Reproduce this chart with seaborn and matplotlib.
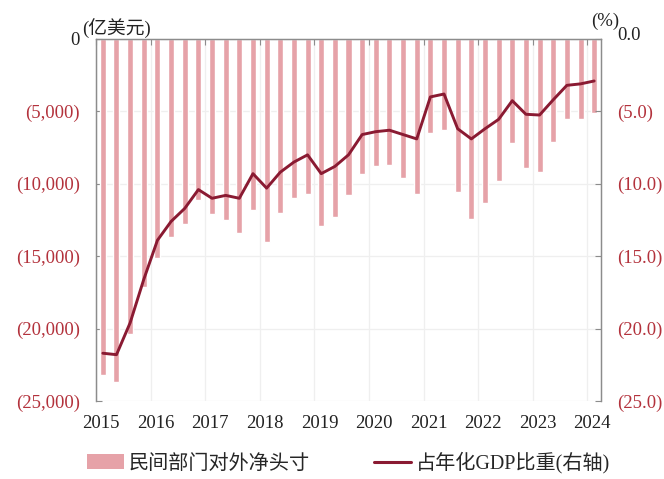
import matplotlib
matplotlib.use("Agg")
import matplotlib.pyplot as plt
import matplotlib.transforms as mtransforms
from matplotlib.patches import Patch
from matplotlib.lines import Line2D
from matplotlib.ticker import FuncFormatter, FixedLocator
import seaborn as sns
import pandas as pd

# Quarterly observations, 2015Q1 - 2024Q1
quarters = [f"{y}Q{q}" for y in range(2015, 2024) for q in range(1, 5)] + ["2024Q1"]

# Private sector net international position (100 million USD)
net_position = [
    -23200, -23700, -20400, -17100,
    -15100, -13650, -12800, -11100,
    -12100, -12500, -13400, -11800,
    -14000, -12050, -11000, -10700,
    -12900, -12300, -10800, -9300,
    -8800, -8700, -9600, -10700,
    -6500, -6300, -10600, -12450,
    -11350, -9800, -7200, -8900,
    -9200, -7100, -5550, -5500,
    -5100,
]

# Share of annualised GDP (%), right axis
gdp_share = [
    -21.7, -21.8, -19.6, -16.6,
    -13.9, -12.6, -11.7, -10.4,
    -11.0, -10.8, -11.0, -9.3,
    -10.3, -9.2, -8.5, -8.0,
    -9.3, -8.8, -8.0, -6.6,
    -6.4, -6.3, -6.6, -6.9,
    -4.0, -3.8, -6.2, -6.9,
    -6.2, -5.55, -4.26, -5.2,
    -5.25, -4.2, -3.2, -3.1,
    -2.9,
]

years = list(range(2015, 2025))
left_ticks = [0, -5000, -10000, -15000, -20000, -25000]
right_ticks = [0, -5, -10, -15, -20, -25]

bar_label = "民间部门对外净头寸"
line_label = "占年化GDP比重(右轴)"

# quarter midpoints on a continuous year scale
xpos = [int(s[:4]) + (int(s[-1]) - 0.5) / 4 for s in quarters]
df = pd.DataFrame({"x": xpos, "position": net_position, "share": gdp_share})

sns.set_style("white")
serif = ["Liberation Serif", "DejaVu Serif"]
mixed = ["Liberation Serif", "Noto Sans CJK SC", "DejaVu Sans"]
plt.rcParams["font.family"] = mixed

RED_TXT = "#b3323c"
BAR_C = "#e6a2a8"
LINE_C = "#8a1a32"
SPINE_C = "#8c8c8c"
FS = 13.5

fig = plt.figure(figsize=(6.64, 4.79), dpi=100)
ax = fig.add_axes([0.1446, 0.1628, 0.9051 - 0.1446, 0.9186 - 0.1628])

# faint background grid
for y in years:
    ax.axvline(y, color="#efefef", lw=0.9, zorder=0)
for v in left_ticks:
    ax.axhline(v, color="#efefef", lw=0.9, zorder=0)

sns.barplot(data=df, x="x", y="position", native_scale=True, width=0.44,
            color=BAR_C, saturation=1, ax=ax, zorder=2)

ax2 = ax.twinx()
sns.lineplot(data=df, x="x", y="share", ax=ax2, color=LINE_C, lw=2.1, zorder=3)

ax.set_xlim(2015.0, 2024.25)
ax.set_ylim(-25000, 0)
ax2.set_ylim(-25, 0)
ax.set_xlabel("")
ax.set_ylabel("")
ax2.set_xlabel("")
ax2.set_ylabel("")

# left axis
ax.yaxis.set_major_locator(FixedLocator(left_ticks))
ax.yaxis.set_major_formatter(FuncFormatter(
    lambda v, p: "0" if v == 0 else f"({abs(v):,.0f})"))
ax.tick_params(axis="y", direction="in", length=4, width=0.8, color=SPINE_C,
               pad=11.5, labelsize=FS)
# right axis
ax2.yaxis.set_major_locator(FixedLocator(right_ticks))
ax2.yaxis.set_major_formatter(FuncFormatter(
    lambda v, p: "0.0" if v == 0 else f"({abs(v):.1f})"))
ax2.tick_params(axis="y", direction="in", length=4, width=0.8, color=SPINE_C,
                pad=11.5, labelsize=FS)
for lab, v in zip(ax.get_yticklabels(), left_ticks):
    lab.set_color("#222222" if v == 0 else RED_TXT)
    lab.set_family(serif)
for lab, v in zip(ax2.get_yticklabels(), right_ticks):
    lab.set_color("#222222" if v == 0 else RED_TXT)
    lab.set_family(serif)
# the 0.0 label sits slightly above the top spine
up = mtransforms.ScaledTranslation(0, 5 / 100, fig.dpi_scale_trans)
zero_lab = ax2.get_yticklabels()[0]
zero_lab.set_transform(zero_lab.get_transform() + up)

# year ticks on top, labels below
ax.xaxis.set_major_locator(FixedLocator(years))
ax.xaxis.set_major_formatter(FuncFormatter(lambda v, p: f"{int(round(v))}"))
ax.tick_params(axis="x", top=True, bottom=False, labeltop=False, labelbottom=True,
               direction="in", length=4, width=0.8, color=SPINE_C, pad=10,
               labelsize=FS, labelcolor="#222222")
shift = mtransforms.ScaledTranslation(5 / 100, 0, fig.dpi_scale_trans)
for lab in ax.get_xticklabels():
    lab.set_family(serif)
    lab.set_transform(lab.get_transform() + shift)

for a in (ax, ax2):
    for side in ("left", "right", "top"):
        a.spines[side].set_color(SPINE_C)
        a.spines[side].set_linewidth(0.9)
    a.spines["bottom"].set_visible(False)
ax2.tick_params(axis="x", top=False, bottom=False)

# unit captions
fig.text(0.123, 0.942, "(亿美元)", fontsize=FS, color="#222222",
         family=mixed, ha="left", va="center")
fig.text(0.891, 0.955, "(%)", fontsize=FS, color="#222222",
         family=serif, ha="left", va="center")

handles = [Patch(facecolor=BAR_C, edgecolor="none"),
           Line2D([0], [0], color=LINE_C, lw=2.2)]
fig.legend(handles, [bar_label, line_label], loc="center",
           bbox_to_anchor=(0.525, 0.034), ncol=2, frameon=False,
           columnspacing=3.2, handlelength=1.8, handletextpad=0.25,
           prop={"family": mixed, "size": 14.5})

fig.savefig("out.png", dpi=100, facecolor="white")
